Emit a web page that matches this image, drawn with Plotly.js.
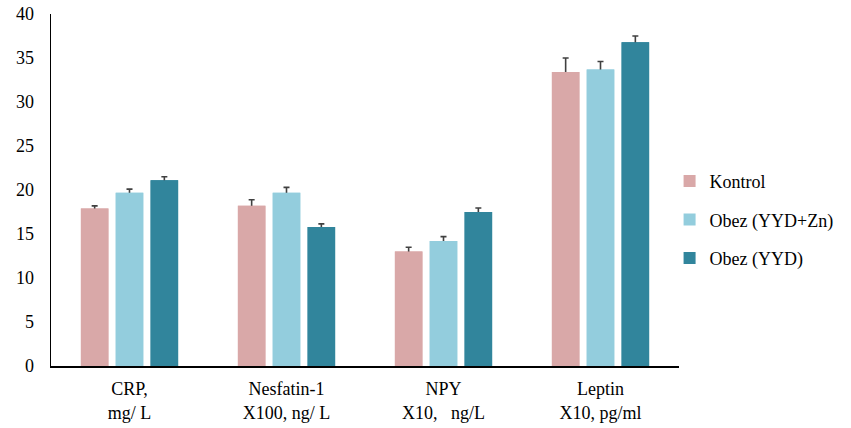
<!DOCTYPE html>
<html>
<head>
<meta charset="utf-8">
<script src="https://cdn.plot.ly/plotly-3.0.1.min.js"></script>
<style>html,body{margin:0;padding:0;background:#fff;}#chart{width:851px;height:428px;}</style>
</head>
<body>
<div id="chart"></div>
<script>
const categories = ["CRP,<br>mg/ L", "Nesfatin-1<br>X100, ng/ L", "NPY<br>X10,   ng/L", "Leptin<br>X10, pg/ml"];
const kontrol = [17.9, 18.2, 13.0, 33.4];
const kontrolErr = [0.3, 0.7, 0.5, 1.6];
const obezZn = [19.7, 19.7, 14.2, 33.7];
const obezZnErr = [0.4, 0.6, 0.5, 0.9];
const obezYYD = [21.1, 15.8, 17.5, 36.8];
const obezYYDErr = [0.4, 0.35, 0.45, 0.7];
const seriesNames = ["Kontrol", "Obez (YYD+Zn)", "Obez (YYD)"];
const colors = ["#D9A8A8", "#93CDDD", "#31859C"];

const vals = [kontrol, obezZn, obezYYD];
const errs = [kontrolErr, obezZnErr, obezYYDErr];
const font = "Liberation Serif";

const traces = vals.map((v, i) => ({
  type: "bar",
  x: categories,
  y: v,
  name: seriesNames[i],
  legendgroup: "g" + i,
  offsetgroup: "o" + i,
  marker: {color: colors[i]},
  error_y: {type: "data", array: errs[i], visible: true, color: "#404040", thickness: 1.6, width: 3}
}));
// same bars drawn again on top so only the upper half of each error bar shows
vals.forEach((v, i) => traces.push({
  type: "bar",
  x: categories,
  y: v,
  name: seriesNames[i],
  legendgroup: "g" + i,
  offsetgroup: "o" + i,
  showlegend: false,
  marker: {color: colors[i]}
}));

const layout = {
  width: 851, height: 428,
  margin: {l: 51, r: 160, t: 14, b: 62},
  paper_bgcolor: "#fff", plot_bgcolor: "#fff",
  barmode: "group",
  bargap: 0.334,
  bargroupgap: 0.21,
  font: {family: font, size: 18, color: "#000"},
  xaxis: {
    showline: true, linecolor: "#000", linewidth: 1.5,
    showgrid: false, zeroline: false, ticks: "", ticklabelstandoff: 6,
    tickfont: {family: font, size: 18, color: "#000"}
  },
  yaxis: {
    range: [0, 40], dtick: 5, showline: true, linecolor: "#000", linewidth: 1.5,
    showgrid: false, zeroline: false, ticks: "", ticklabelstandoff: 12,
    tickfont: {family: font, size: 18, color: "#000"}
  },
  legend: {
    x: 0.985, xanchor: "left", y: 0.415, yanchor: "middle",
    font: {family: font, size: 18, color: "#000"},
    tracegroupgap: 12, itemwidth: 30
  },
  showlegend: true
};

Plotly.newPlot("chart", traces, layout, {displayModeBar: false, staticPlot: true});
</script>
</body>
</html>
